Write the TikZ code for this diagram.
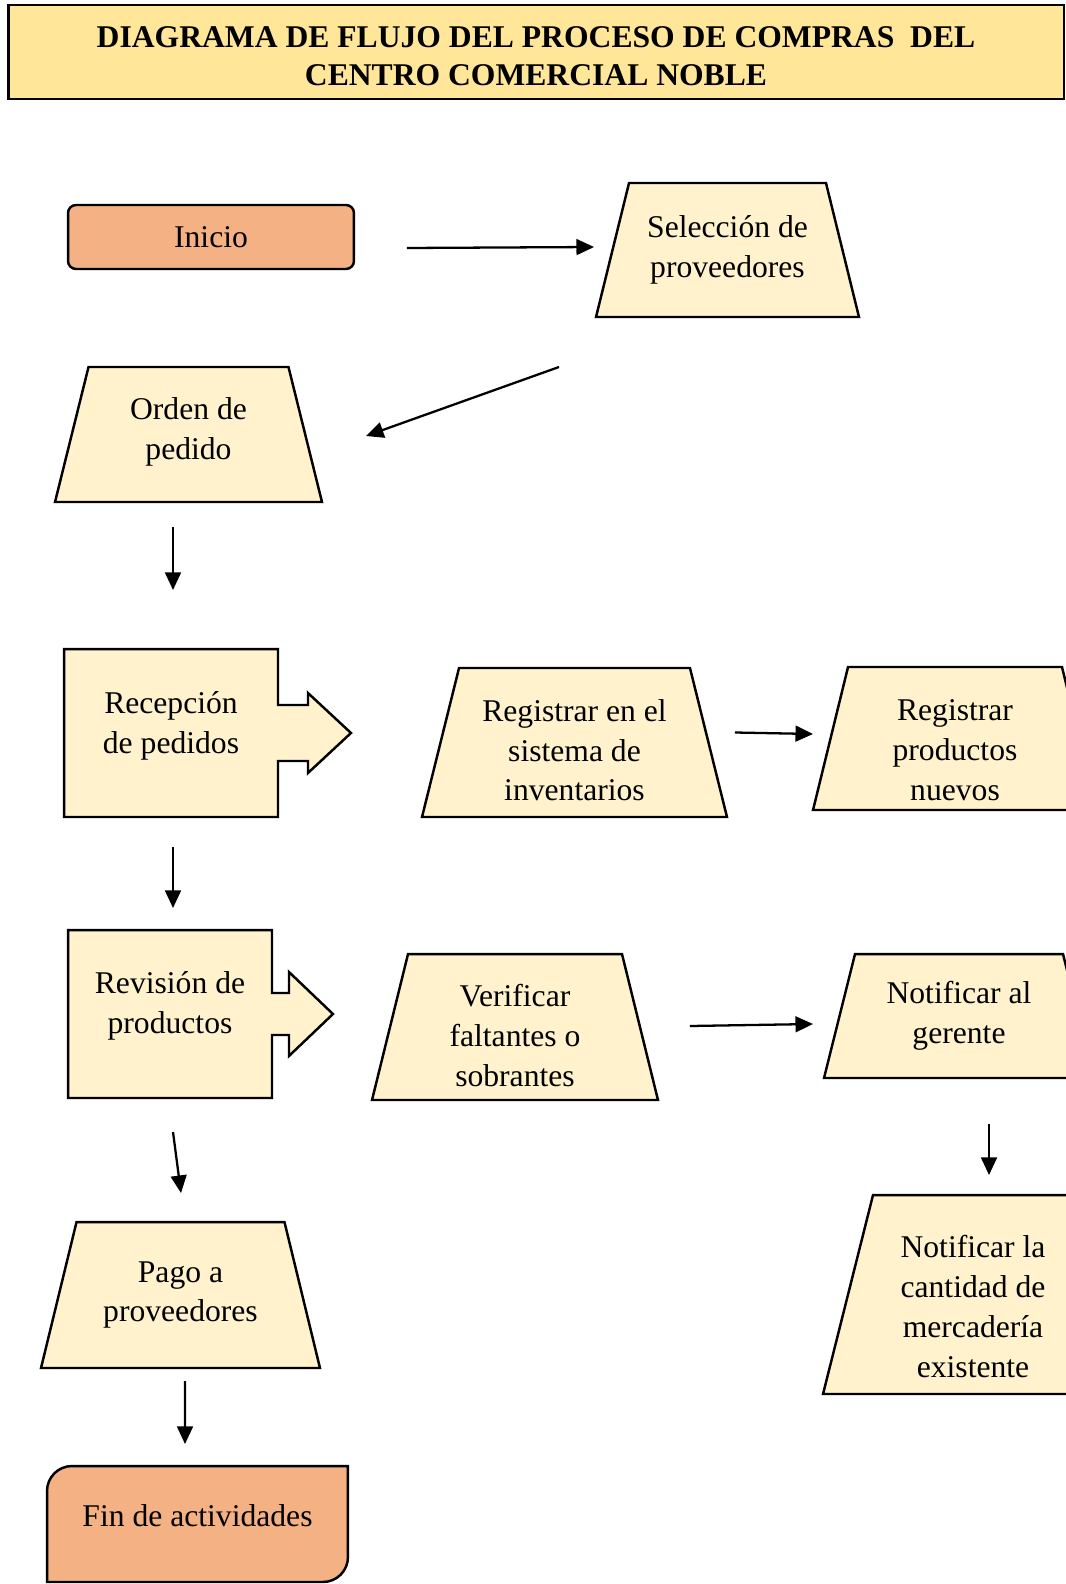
\documentclass[tikz,border=0pt]{standalone}
\usepackage{fontspec}
\setmainfont{Liberation Serif}
\usepackage{xcolor}
\usetikzlibrary{arrows.meta}

\definecolor{naranja}{HTML}{F4B183}
\definecolor{crema}{HTML}{FFF2CC}
\definecolor{amarillo}{HTML}{FFE699}

\pgfdeclarelayer{fondo}
\pgfsetlayers{fondo,main}

\tikzset{
  caja/.style={rectangle, align=center, inner sep=0pt, outer sep=0pt,
    font=\fontsize{18}{22.7}\selectfont},
  term/.style={caja, draw, line width=1.4pt, fill=naranja},
  contorno/.style={draw, line width=1.4pt, fill=crema},
  flecha/.style={-{Triangle[length=10pt,width=9pt]}, line width=1.3pt},
}

% trapecio dibujado sobre el rectangulo del nodo: nombre, recorte arriba
\newcommand{\trapecio}[2]{%
  \draw[contorno] (#1.south west) -- ([xshift=#2]#1.north west)
    -- ([xshift=-#2]#1.north east) -- (#1.south east) -- cycle;}

\begin{document}
\begin{tikzpicture}[x=0.02cm, y=-0.02cm]
\useasboundingbox (0,0) rectangle (1065,1584);

% titulo
\node[draw, line width=1.6pt, fill=amarillo, minimum width=21.12cm, minimum height=1.88cm,
  align=center, text height=38.3pt, font=\fontsize{18}{21.8}\selectfont\bfseries] (titulo) at (536,52)
  {DIAGRAMA DE FLUJO DEL PROCESO DE COMPRAS\ \ DEL\\CENTRO COMERCIAL NOBLE};

% pasos
\node[term, rounded corners=0.16cm, minimum width=5.72cm, minimum height=1.28cm] (inicio) at (211,237) {Inicio};
\node[caja, minimum width=5.26cm, minimum height=2.68cm] (selec) at (727.5,250) {Selección de\\proveedores};
\node[caja, minimum width=5.34cm, minimum height=2.7cm, text depth=7.3pt] (orden) at (188.5,434.5) {Orden de\\pedido};
\node[caja, minimum width=4.28cm, minimum height=3.36cm, text depth=12pt] (recep) at (171,733) {Recepción\\de pedidos};
\node[caja, minimum width=6.1cm, minimum height=2.98cm, text height=66.7pt] (regsis) at (574.5,742.5) {Registrar en el\\sistema de\\inventarios};
\node[caja, minimum width=5.68cm, minimum height=2.86cm, text height=70.3pt] (regprod) at (955,738.5) {Registrar\\productos\\nuevos};
\node[caja, minimum width=4.08cm, minimum height=3.36cm, text depth=13pt] (revis) at (170,1014) {Revisión de\\productos};
\node[caja, minimum width=5.72cm, minimum height=2.92cm, text height=67.9pt] (verif) at (515,1027) {Verificar\\faltantes o\\sobrantes};
\node[caja, minimum width=5.4cm, minimum height=2.48cm] (notig) at (959,1016) {Notificar al\\gerente};
\node[caja, minimum width=6cm, minimum height=3.98cm, text height=94.4pt] (cant) at (973,1294.5) {Notificar la\\cantidad de\\mercadería\\existente};
\node[caja, minimum width=5.58cm, minimum height=2.92cm] (pago) at (180.5,1295) {Pago a\\proveedores};
\node[caja, minimum width=6.02cm, minimum height=2.32cm, text depth=10pt] (fin) at (197.5,1524) {Fin de actividades};

% formas por debajo del texto
\begin{pgfonlayer}{fondo}
\fill[white] (0,0) rectangle (1065,1584);
\trapecio{selec}{0.66cm}
\trapecio{orden}{0.67cm}
\trapecio{regsis}{0.74cm}
\trapecio{regprod}{0.7cm}
\trapecio{verif}{0.72cm}
\trapecio{notig}{0.62cm}
\trapecio{cant}{1cm}
\trapecio{pago}{0.71cm}
\draw[contorno] (recep.south west) -- (recep.north west) -- (recep.north east)
  -- ([shift={(0,-28)}]recep.east) -- ([shift={(30,-28)}]recep.east)
  -- ([shift={(30,-40)}]recep.east) -- ([shift={(73,0)}]recep.east)
  -- ([shift={(30,40)}]recep.east) -- ([shift={(30,28)}]recep.east)
  -- ([shift={(0,28)}]recep.east) -- (recep.south east) -- cycle;
\draw[contorno] (revis.south west) -- (revis.north west) -- (revis.north east)
  -- ([shift={(0,-21)}]revis.east) -- ([shift={(17,-21)}]revis.east)
  -- ([shift={(17,-42)}]revis.east) -- ([shift={(61,0)}]revis.east)
  -- ([shift={(17,42)}]revis.east) -- ([shift={(17,21)}]revis.east)
  -- ([shift={(0,21)}]revis.east) -- (revis.south east) -- cycle;
\draw[contorno, fill=naranja] (fin.south west) -- ([yshift=-0.5cm]fin.north west)
  arc[start angle=180, end angle=90, radius=0.5cm] -- (fin.north east)
  -- ([yshift=0.5cm]fin.south east)
  arc[start angle=0, end angle=-90, radius=0.5cm] -- cycle;
\end{pgfonlayer}

% conectores
\draw[flecha] ([shift={(53,11)}]inicio.east) -- ([shift={(-2,-3)}]selec.west);
\draw[flecha] ([shift={(-37,50)}]selec.south west) -- ([shift={(44,1.5)}]orden.east);
\draw[flecha] ([shift={(-15.5,25)}]orden.south) -- ([shift={(2,-59)}]recep.north);
\draw[flecha] ([shift={(2,30)}]recep.south) -- ([shift={(3,-22)}]revis.north);
\draw[flecha] ([shift={(8,-10)}]regsis.east) -- ([shift={(0,-4.5)}]regprod.west);
\draw[flecha] ([shift={(32,-1)}]verif.east) -- ([shift={(-11,8)}]notig.west);
\draw[flecha] ([shift={(30,46)}]notig.south) -- ([shift={(16,-20)}]cant.north);
\draw[flecha] ([shift={(3,34)}]revis.south) -- ([shift={(0.5,-29)}]pago.north);
\draw[flecha] ([shift={(4.5,13)}]pago.south) -- ([shift={(-12.5,-22)}]fin.north);
\end{tikzpicture}
\end{document}
